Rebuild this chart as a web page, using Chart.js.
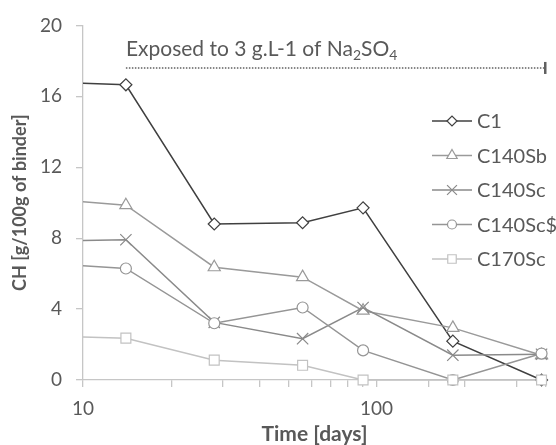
<!DOCTYPE html>
<html>
<head>
<meta charset="utf-8">
<script src="https://cdn.jsdelivr.net/npm/chart.js@4/dist/chart.umd.min.js"></script>
<style>
  body { margin: 0; background: #fff; }
  #wrap { width: 556px; height: 445px; }
</style>
</head>
<body>
<div id="wrap"><canvas id="chCanvas" width="556" height="445"></canvas></div>
<script>
// sampling times (days); the first one sits left of the axis and is clipped
const days = [7, 14, 28, 56, 90, 182, 365];

const seriesNames = ['C1', 'C140Sb', 'C140Sc', 'C140Sc$', 'C170Sc'];
const c1 = [16.83, 16.65, 8.8, 8.87, 9.71, 2.19, 0];
const c140Sb = [10.25, 9.86, 6.36, 5.8, 3.91, 2.94, 1.4];
const c140Sc = [7.83, 7.91, 3.25, 2.33, 4.09, 1.4, 1.45];
const c140ScS = [6.6, 6.29, 3.2, 4.09, 1.67, 0, 1.49];
const c170Sc = [2.48, 2.36, 1.12, 0.83, 0, 0, 0];

const yTicks = [0, 4, 8, 12, 16, 20];
const xLabels = [10, 100];

// exposure annotation: from day 14 to the end of the axis, at CH = 17.6
const exposureDays = [14, 378];
const exposureLevel = 17.6;

const FONT = 'Lato, "Open Sans", sans-serif';
const TXT = '#595959';
const AXIS = '#c6c6c6';

const styles = [
    { color: '#404040', point: 'rectRot', r: 6 },
    { color: '#9a9a9a', point: 'triangle', r: 7 },
    { color: '#8a8a8a', point: 'crossRot', r: 8 },
    { color: '#959595', point: 'circle', r: 5.5 },
    { color: '#c2c2c2', point: 'rect', r: 7 }
];
const values = [c1, c140Sb, c140Sc, c140ScS, c170Sc];

const datasets = seriesNames.map((name, i) => ({
    label: name,
    data: days.map((d, k) => ({ x: d, y: values[i][k] })),
    borderColor: styles[i].color,
    borderWidth: 1.5,
    pointStyle: styles[i].point,
    pointRadius: styles[i].r,
    pointBackgroundColor: '#fff',
    pointBorderColor: styles[i].color,
    pointBorderWidth: 1.2,
    tension: 0,
    order: seriesNames.length - i,   // later series on top, like the original
    clip: { left: 0, top: 12, right: 12, bottom: 12 }
}));

function marker(ctx, style, x, y, r, color) {
    ctx.save();
    ctx.fillStyle = '#fff';
    ctx.strokeStyle = color;
    ctx.lineWidth = 1.2;
    if (Chart.helpers && Chart.helpers.drawPoint) {
        Chart.helpers.drawPoint(ctx, { pointStyle: style, radius: r, rotation: 0, borderWidth: 1.2 }, x, y);
    }
    ctx.restore();
}

const extras = {
    id: 'extras',
    afterDatasetsDraw(chart) {
        const ctx = chart.ctx;
        const xs = chart.scales.x, ys = chart.scales.y;

        // exposure line + label
        const x0 = xs.getPixelForValue(exposureDays[0]);
        const x1 = xs.getPixelForValue(exposureDays[1]);
        const yl = ys.getPixelForValue(exposureLevel);
        ctx.save();
        ctx.strokeStyle = '#606060';
        ctx.lineWidth = 1.5;
        ctx.setLineDash([1.5, 1.5]);
        ctx.beginPath();
        ctx.moveTo(x0, yl);
        ctx.lineTo(x1, yl);
        ctx.stroke();
        ctx.setLineDash([]);
        ctx.fillStyle = '#606060';
        ctx.fillRect(x1 - 2, yl - 6, 2.5, 12);

        ctx.fillStyle = TXT;
        ctx.textBaseline = 'alphabetic';
        ctx.textAlign = 'left';
        const base = yl - 12;
        const parts = [['Exposed to 3 g.L-1 of Na', 0], ['2', 1], ['SO', 0], ['4', 1]];
        let tx = x0;
        parts.forEach(([t, sub]) => {
            ctx.font = (sub ? '14px ' : '21px ') + FONT;
            ctx.fillText(t, tx, base + (sub ? 4 : 0));
            tx += ctx.measureText(t).width;
        });
        ctx.restore();

        // legend
        ctx.save();
        ctx.font = '20px ' + FONT;
        ctx.textBaseline = 'middle';
        ctx.textAlign = 'left';
        seriesNames.forEach((name, i) => {
            const y = 121 + i * 34.5;
            ctx.strokeStyle = styles[i].color;
            ctx.lineWidth = 1.5;
            ctx.beginPath();
            ctx.moveTo(432, y);
            ctx.lineTo(472, y);
            ctx.stroke();
            marker(ctx, styles[i].point, 452, y, styles[i].r - 1, styles[i].color);
            ctx.fillStyle = TXT;
            ctx.fillText(name, 477, y + 1);
        });
        ctx.restore();
    }
};

new Chart(document.getElementById('chCanvas').getContext('2d'), {
    type: 'line',
    data: { datasets: datasets },
    options: {
        responsive: false,
        animation: false,
        events: [],
        layout: { padding: { top: 22, right: 3, left: 0, bottom: 0 } },
        plugins: { legend: { display: false }, tooltip: { enabled: false } },
        scales: {
            x: {
                type: 'logarithmic',
                min: 10,
                max: exposureDays[1],
                border: { color: AXIS, width: 1.3 },
                grid: { drawOnChartArea: false, tickLength: 7, color: AXIS, lineWidth: 1.3 },
                ticks: {
                    autoSkip: false,
                    maxRotation: 0,
                    padding: 10,
                    color: TXT,
                    font: { family: FONT, size: 19 },
                    callback: v => xLabels.includes(v) ? String(v) : ''
                },
                title: {
                    display: true,
                    text: 'Time [days]',
                    color: TXT,
                    font: { family: FONT, size: 21, weight: 'bold' },
                    padding: { top: 0, bottom: -2 }
                },
                afterFit: s => { s.height = 65; }
            },
            y: {
                min: 0,
                max: 20,
                border: { color: AXIS, width: 1.3 },
                grid: { drawOnChartArea: false, tickLength: 7, color: AXIS, lineWidth: 1.3 },
                afterBuildTicks: s => { s.ticks = yTicks.map(v => ({ value: v })); },
                ticks: {
                    padding: 14,
                    color: TXT,
                    font: { family: FONT, size: 19 }
                },
                title: {
                    display: true,
                    text: 'CH [g/100g of binder]',
                    color: TXT,
                    font: { family: FONT, size: 18, weight: 'bold' },
                    padding: { top: 9, bottom: 0 }
                },
                afterFit: s => { s.width = 83; }
            }
        }
    },
    plugins: [extras]
});
</script>
</body>
</html>
